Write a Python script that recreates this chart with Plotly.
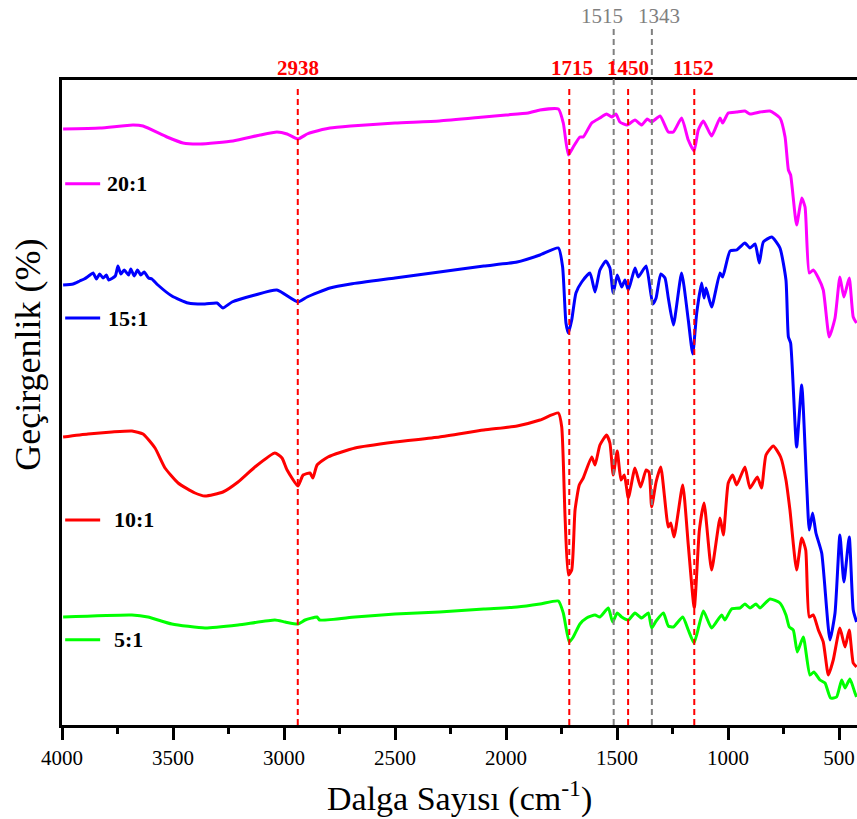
import plotly.graph_objects as go

# Wavenumbers (cm-1) and transmittance (arbitrary units, offset spectra)
w_20 = [3995, 3829, 3680, 3635, 3527, 3455, 3378, 3230, 3108, 3032, 2986, 2937, 2896, 2869, 2793, 2700,
        2500, 2300, 2100, 2000, 1900, 1847, 1764, 1742, 1719, 1697, 1667, 1652, 1614, 1577, 1547, 1524,
        1505, 1487, 1454, 1419, 1389, 1364, 1344, 1306, 1269, 1246, 1209, 1179, 1153, 1134, 1111, 1074,
        1036, 1024, 999, 961, 924, 901, 856, 811, 766, 743, 728, 718, 691, 668, 653, 634, 616, 593, 571,
        544, 518, 496, 478, 454, 436, 421]
t_20 = [596, 597, 600, 599, 588, 582, 581, 584, 590, 593, 591, 586, 591, 593, 597, 599,
        602, 604, 608, 610, 612, 615, 616, 602, 570, 578, 588, 588, 602, 607, 611, 608,
        611, 603, 600, 605, 600, 606, 603, 609, 593, 593, 607, 585, 574, 595, 604, 589,
        607, 602, 612, 613, 614, 611, 613, 614, 607, 588, 555, 550, 500, 527, 518, 452, 455, 447, 435,
        388, 407, 448, 428, 447, 408, 402]

w_15 = [3995, 3950, 3920, 3900, 3880, 3860, 3845, 3830, 3815, 3800, 3790, 3760, 3748, 3735, 3720, 3700,
        3690, 3675, 3660, 3645, 3630, 3610, 3595, 3568, 3505, 3432, 3356, 3302,
        3275, 3234, 3131, 3032, 2937, 2896, 2793, 2700, 2500, 2300, 2100, 1950, 1847, 1764, 1745, 1730,
        1719, 1704, 1685, 1659, 1622, 1599, 1577, 1550, 1532, 1517, 1499, 1479, 1464, 1449, 1419, 1404,
        1369, 1339, 1324, 1303, 1284, 1269, 1246, 1209, 1179, 1159, 1141, 1119, 1108, 1099, 1074, 1036,
        1024, 991, 961, 924, 901, 878, 859, 841, 803, 766, 739, 728, 718, 691, 668, 646, 634, 619, 604,
        578, 541, 518, 496, 478, 454, 436, 421]
t_15 = [440, 441, 444, 446, 449, 452, 446, 451, 447, 450, 445, 449, 459, 451, 455, 450,
        456, 449, 455, 450, 453, 447, 446, 440, 429, 422, 421, 422,
        417, 423, 430, 435, 423, 428, 437, 441, 447, 453, 459, 463, 470, 477, 458, 402,
        392, 405, 432, 443, 452, 433, 455, 464, 457, 432, 450, 438, 445, 435, 457, 448,
        459, 421, 427, 451, 447, 427, 400, 452, 405, 371, 412, 442, 427, 437, 418, 452,
        448, 474, 475, 482, 477, 481, 462, 483, 488, 477, 445, 388, 382, 278, 340, 242, 195, 212, 192,
        172, 85, 112, 190, 143, 188, 115, 103]

w_10 = [3995, 3883, 3775, 3685, 3635, 3581, 3536, 3477, 3401, 3356, 3275, 3207, 3131, 3041, 3009, 2986,
        2937, 2914, 2883, 2870, 2851, 2802, 2680, 2500, 2300, 2100, 1950, 1847, 1764, 1749, 1734, 1719,
        1704, 1689, 1670, 1652, 1614, 1599, 1577, 1547, 1532, 1517, 1499, 1482, 1467, 1449, 1419, 1394,
        1369, 1356, 1344, 1324, 1303, 1269, 1258, 1243, 1204, 1179, 1152, 1129, 1108, 1074, 1036, 1021,
        999, 979, 961, 924, 901, 868, 849, 829, 796, 763, 739, 721, 691, 668, 650, 634, 616, 593, 571,
        548, 526, 496, 473, 454, 436, 421]
t_10 = [288, 291, 293, 294, 291, 277, 257, 242, 232, 229, 233, 243, 258, 272, 267, 255,
        239, 250, 252, 247, 260, 268, 277, 283, 288, 295, 299, 305, 312, 298, 208, 150,
        155, 215, 240, 247, 268, 260, 280, 290, 282, 250, 274, 245, 250, 227, 257, 238,
        255, 253, 218, 243, 258, 198, 202, 188, 240, 180, 117, 195, 222, 155, 207, 190,
        242, 250, 240, 258, 237, 248, 237, 270, 279, 268, 245, 215, 155, 187, 175, 108, 110, 95, 83,
        50, 65, 97, 78, 95, 62, 58]

w_5 = [3995, 3685, 3613, 3505, 3356, 3207, 3041, 2995, 2937, 2905, 2851, 2840, 2680, 2500, 2300, 2100,
       1950, 1847, 1764, 1742, 1715, 1697, 1667, 1637, 1599, 1577, 1539, 1520, 1499, 1479, 1449, 1419,
       1389, 1359, 1344, 1324, 1291, 1269, 1246, 1204, 1179, 1153, 1111, 1074, 1029, 1014, 984, 946,
       924, 901, 874, 856, 811, 766, 739, 724, 706, 688, 661, 631, 613, 586, 563, 538, 511, 488, 473,
       451, 428, 421]
t_5 = [108, 110, 108, 101, 97, 100, 105, 103, 101, 105, 108, 105, 108, 111, 113, 116,
       118, 121, 124, 112, 83, 88, 101, 107, 110, 108, 117, 103, 112, 108, 105, 112,
       107, 112, 97, 104, 112, 99, 98, 108, 95, 82, 114, 97, 110, 105, 116, 117,
       121, 117, 121, 117, 126, 122, 110, 98, 95, 73, 88, 50, 53, 45, 42, 27, 28, 45, 37,
       46, 32, 28]

series_names = ["20:1", "15:1", "10:1", "5:1"]
series_colors = ["#FF00FF", "#0000FF", "#FF0000", "#00FF00"]
series_w = [w_20, w_15, w_10, w_5]
series_t = [t_20, t_15, t_10, t_5]

red_peaks = [2938, 1715, 1450, 1152]
gray_peaks = [1515, 1343]

x_ticks = [4000, 3500, 3000, 2500, 2000, 1500, 1000, 500]

FONT = "Liberation Serif"

fig = go.Figure()
for name, col, wv, tv in zip(series_names, series_colors, series_w, series_t):
    fig.add_trace(go.Scatter(x=wv, y=tv, mode="lines", name=name,
                             line=dict(color=col, width=3, shape="spline", smoothing=0.5),
                             showlegend=False))

shapes = []
annotations = []
red_shift = {2938: 0, 1715: 3, 1450: 0, 1152: -1}
gray_shift = {1515: -12, 1343: 7}
for p in red_peaks:
    shapes.append(dict(type="line", xref="x", yref="paper", x0=p, x1=p, y0=0, y1=0.992,
                       line=dict(color="#FF0000", width=2, dash="6px,4px")))
    annotations.append(dict(x=p, y=1.0186, xref="x", yref="paper", text="<b>%d</b>" % p,
                            showarrow=False, font=dict(family=FONT, size=21, color="#FF0000"),
                            xanchor="center", yanchor="middle", xshift=red_shift[p]))
for p in gray_peaks:
    shapes.append(dict(type="line", xref="x", yref="paper", x0=p, x1=p, y0=0, y1=1.081,
                       line=dict(color="#808080", width=2, dash="6px,4px")))
    annotations.append(dict(x=p, y=1.099, xref="x", yref="paper", text="%d" % p,
                            showarrow=False, font=dict(family=FONT, size=21, color="#808080"),
                            xanchor="center", yanchor="middle", xshift=gray_shift[p]))

# in-plot legend entries
leg_y = [0.839, 0.631, 0.318, 0.132]
leg_tx = [0.054, 0.055, 0.063, 0.063]
for name, col, ly, tx in zip(series_names, series_colors, leg_y, leg_tx):
    shapes.append(dict(type="line", xref="paper", yref="paper", x0=0.004, x1=0.048, y0=ly, y1=ly,
                       line=dict(color=col, width=3)))
    annotations.append(dict(x=tx, y=ly, xref="paper", yref="paper", text="<b>%s</b>" % name,
                            showarrow=False, font=dict(family=FONT, size=22, color="black"),
                            xanchor="left", yanchor="middle"))

# axis titles
annotations.append(dict(x=0.5, y=-0.1116, xref="paper", yref="paper",
                        text="Dalga Sayısı (cm<sup>-1</sup>)", showarrow=False,
                        font=dict(family=FONT, size=34, color="black"),
                        xanchor="center", yanchor="middle"))
annotations.append(dict(x=-0.0428, y=0.574, xref="paper", yref="paper",
                        text="Geçirgenlik (%)", showarrow=False, textangle=-90,
                        font=dict(family=FONT, size=36, color="black"),
                        xanchor="center", yanchor="middle"))

fig.update_layout(
    width=857, height=819,
    margin=dict(l=62, r=0, t=80, b=94),
    plot_bgcolor="white", paper_bgcolor="white",
    shapes=shapes, annotations=annotations,
    font=dict(family=FONT, color="black"),
)
fig.update_xaxes(
    range=[4000, 419], tickvals=x_ticks, ticktext=[str(v) for v in x_ticks],
    ticks="outside", ticklen=12, tickwidth=2.5, tickcolor="black",
    minor=dict(dtick=250, ticks="outside", ticklen=6, tickwidth=2.5, tickcolor="black"),
    showline=True, linewidth=2.5, linecolor="black", mirror=True,
    showgrid=False, zeroline=False,
    tickfont=dict(family=FONT, size=21, color="black"),
)
fig.update_yaxes(
    range=[0, 645], showticklabels=False, ticks="",
    showline=True, linewidth=2.5, linecolor="black", mirror=False,
    showgrid=False, zeroline=False,
)

fig.write_html("out.html", config={"displayModeBar": False},
               post_script="document.body.style.margin='0';")
